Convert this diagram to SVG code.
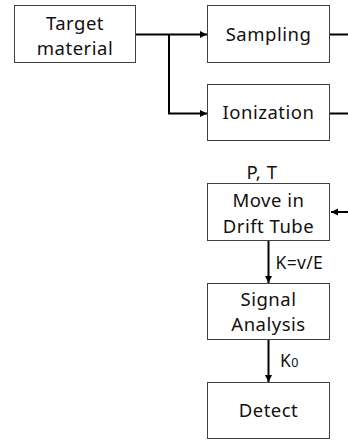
<svg xmlns="http://www.w3.org/2000/svg" width="348" height="440" viewBox="0 0 348 440">
<style>
.box{fill:#fff;stroke:#404040;stroke-width:1}
.t{font-family:"Noto Sans","Noto Sans CJK KR",sans-serif;font-size:18.5px;letter-spacing:0.5px;fill:#111;text-anchor:middle}
.l{font-family:"Noto Sans","Noto Sans CJK KR",sans-serif;font-size:17.5px;letter-spacing:0.3px;fill:#111}
.c{fill:none;stroke:#000;stroke-width:2}
</style>
<defs>
<marker id="ah" markerWidth="8" markerHeight="8" refX="7" refY="4" orient="auto" markerUnits="userSpaceOnUse">
<path d="M0,0.5 L7,4 L0,7.5 Z" fill="#000"/>
</marker>
</defs>
<rect width="348" height="440" fill="#fff"/>
<g id="connectors">
<path class="c" d="M135.5,34.5 H207" marker-end="url(#ah)"/>
<path class="c" d="M169,34.5 V113.5 H207" marker-end="url(#ah)"/>
<path class="c" d="M330,34.5 H348"/>
<path class="c" d="M330,113.5 H348"/>
<path class="c" d="M348,212 H331" marker-end="url(#ah)"/>
<path class="c" d="M268.5,241 V283" marker-end="url(#ah)"/>
<path class="c" d="M268.5,340 V382" marker-end="url(#ah)"/>
</g>
<g id="target">
<rect class="box" x="14.5" y="5.5" width="121" height="57"/>
<text class="t" x="75" y="29.5">Target</text>
<text class="t" x="75" y="54.5">material</text>
</g>
<g id="sampling">
<rect class="box" x="207.5" y="5.5" width="122" height="57"/>
<text class="t" x="268.5" y="41">Sampling</text>
</g>
<g id="ionization">
<rect class="box" x="207.5" y="84.5" width="122" height="56"/>
<text class="t" x="268.5" y="119">Ionization</text>
</g>
<g id="drift">
<text class="t" x="262" y="178.5">P, T</text>
<rect class="box" x="207.5" y="183.5" width="122" height="57"/>
<text class="t" x="268.5" y="206.5">Move in</text>
<text class="t" x="268.5" y="232.5">Drift Tube</text>
</g>
<g id="signal">
<rect class="box" x="207.5" y="283.5" width="122" height="56"/>
<text class="t" x="268.5" y="305.5">Signal</text>
<text class="t" x="268.5" y="330.5">Analysis</text>
</g>
<g id="detect">
<rect class="box" x="207.5" y="382.5" width="122" height="56"/>
<text class="t" x="268.5" y="417">Detect</text>
</g>
<g id="labels">
<text class="l" x="275.5" y="268.5">K=v/E</text>
<text class="l" x="280" y="366.5">K<tspan font-size="12.5">0</tspan></text>
</g>
</svg>
